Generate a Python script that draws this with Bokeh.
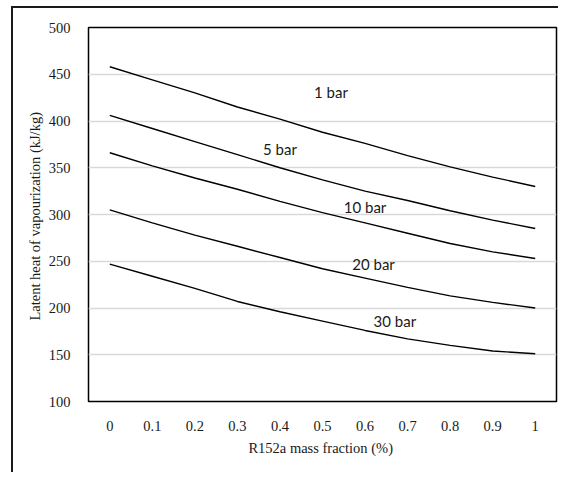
from bokeh.plotting import figure
from bokeh.models import FixedTicker, ColumnDataSource
from bokeh.core.properties import value
from bokeh.embed import file_html
from bokeh.resources import INLINE

# R152a mass fraction
fraction = [0.0, 0.1, 0.2, 0.3, 0.4, 0.5, 0.6, 0.7, 0.8, 0.9, 1.0]
x_tick_labels = ["0", "0.1", "0.2", "0.3", "0.4", "0.5", "0.6", "0.7", "0.8", "0.9", "1"]
y_ticks = [100, 150, 200, 250, 300, 350, 400, 450, 500]

# Latent heat of vaporization (kJ/kg) per pressure
bar1 = [458, 444, 430, 415, 402, 388, 376, 363, 351, 340, 330]
bar5 = [406, 392, 378, 364, 350, 337, 325, 315, 304, 294, 285]
bar10 = [366, 352, 339, 327, 314, 302, 291, 280, 269, 260, 253]
bar20 = [305, 291, 278, 266, 254, 242, 232, 222, 213, 206, 200]
bar30 = [247, 234, 221, 207, 196, 186, 176, 167, 160, 154, 151]
series = [bar1, bar5, bar10, bar20, bar30]

labels = ["1 bar", "5 bar", "10 bar", "20 bar", "30 bar"]
label_x = [0.52, 0.40, 0.60, 0.62, 0.67]
label_y = [431, 370, 308, 247, 186]

p = figure(width=547, height=466, output_backend="svg", toolbar_location=None,
           x_range=(-0.05, 1.05), y_range=(100, 500),
           min_border_left=75, min_border_top=19, min_border_right=4, min_border_bottom=73)
p.styles = {"border-left": "2px solid #1a1a1a", "border-top": "2px solid #1a1a1a",
            "margin-left": "11px", "margin-top": "6px"}

p.outline_line_color = "black"
p.outline_line_width = 1.5
p.background_fill_color = "white"
p.border_fill_color = "white"

for s in series:
    p.line(fraction, s, line_color="black", line_width=1.4)

src = ColumnDataSource(dict(x=label_x, y=label_y, t=labels))
p.text(x="x", y="y", text="t", source=src, text_font=value("Lato"), text_font_size="15px",
       text_align="center", text_baseline="middle", text_color="#1a1a1a")

p.xgrid.visible = False
p.ygrid.ticker = FixedTicker(ticks=y_ticks[1:-1])
p.ygrid.grid_line_color = "#d9d9d9"
p.ygrid.grid_line_width = 1.5

p.xaxis.ticker = FixedTicker(ticks=fraction)
p.xaxis.major_label_overrides = {f: l for f, l in zip(fraction, x_tick_labels)}
p.yaxis.ticker = FixedTicker(ticks=y_ticks)
p.yaxis.major_label_overrides = {t: str(t) for t in y_ticks}

for ax in (p.xaxis[0], p.yaxis[0]):
    ax.axis_line_color = None
    ax.major_tick_line_color = None
    ax.minor_tick_line_color = None
    ax.major_label_text_font = "Liberation Serif"
    ax.major_label_text_font_size = "14.5px"
    ax.major_label_text_color = "#1a1a1a"
    ax.axis_label_text_font = "Liberation Serif"
    ax.axis_label_text_font_size = "14.5px"
    ax.axis_label_text_font_style = "normal"
    ax.axis_label_text_color = "#1a1a1a"

p.xaxis.axis_label = "R152a  mass fraction (%)"
p.yaxis.axis_label = "Latent heat of vapourization  (kJ/kg)"
p.xaxis.major_label_standoff = 13
p.yaxis.major_label_standoff = 12
p.xaxis.axis_label_standoff = 6
p.yaxis.axis_label_standoff = 3

open("out.html", "w").write(file_html(p, INLINE))
